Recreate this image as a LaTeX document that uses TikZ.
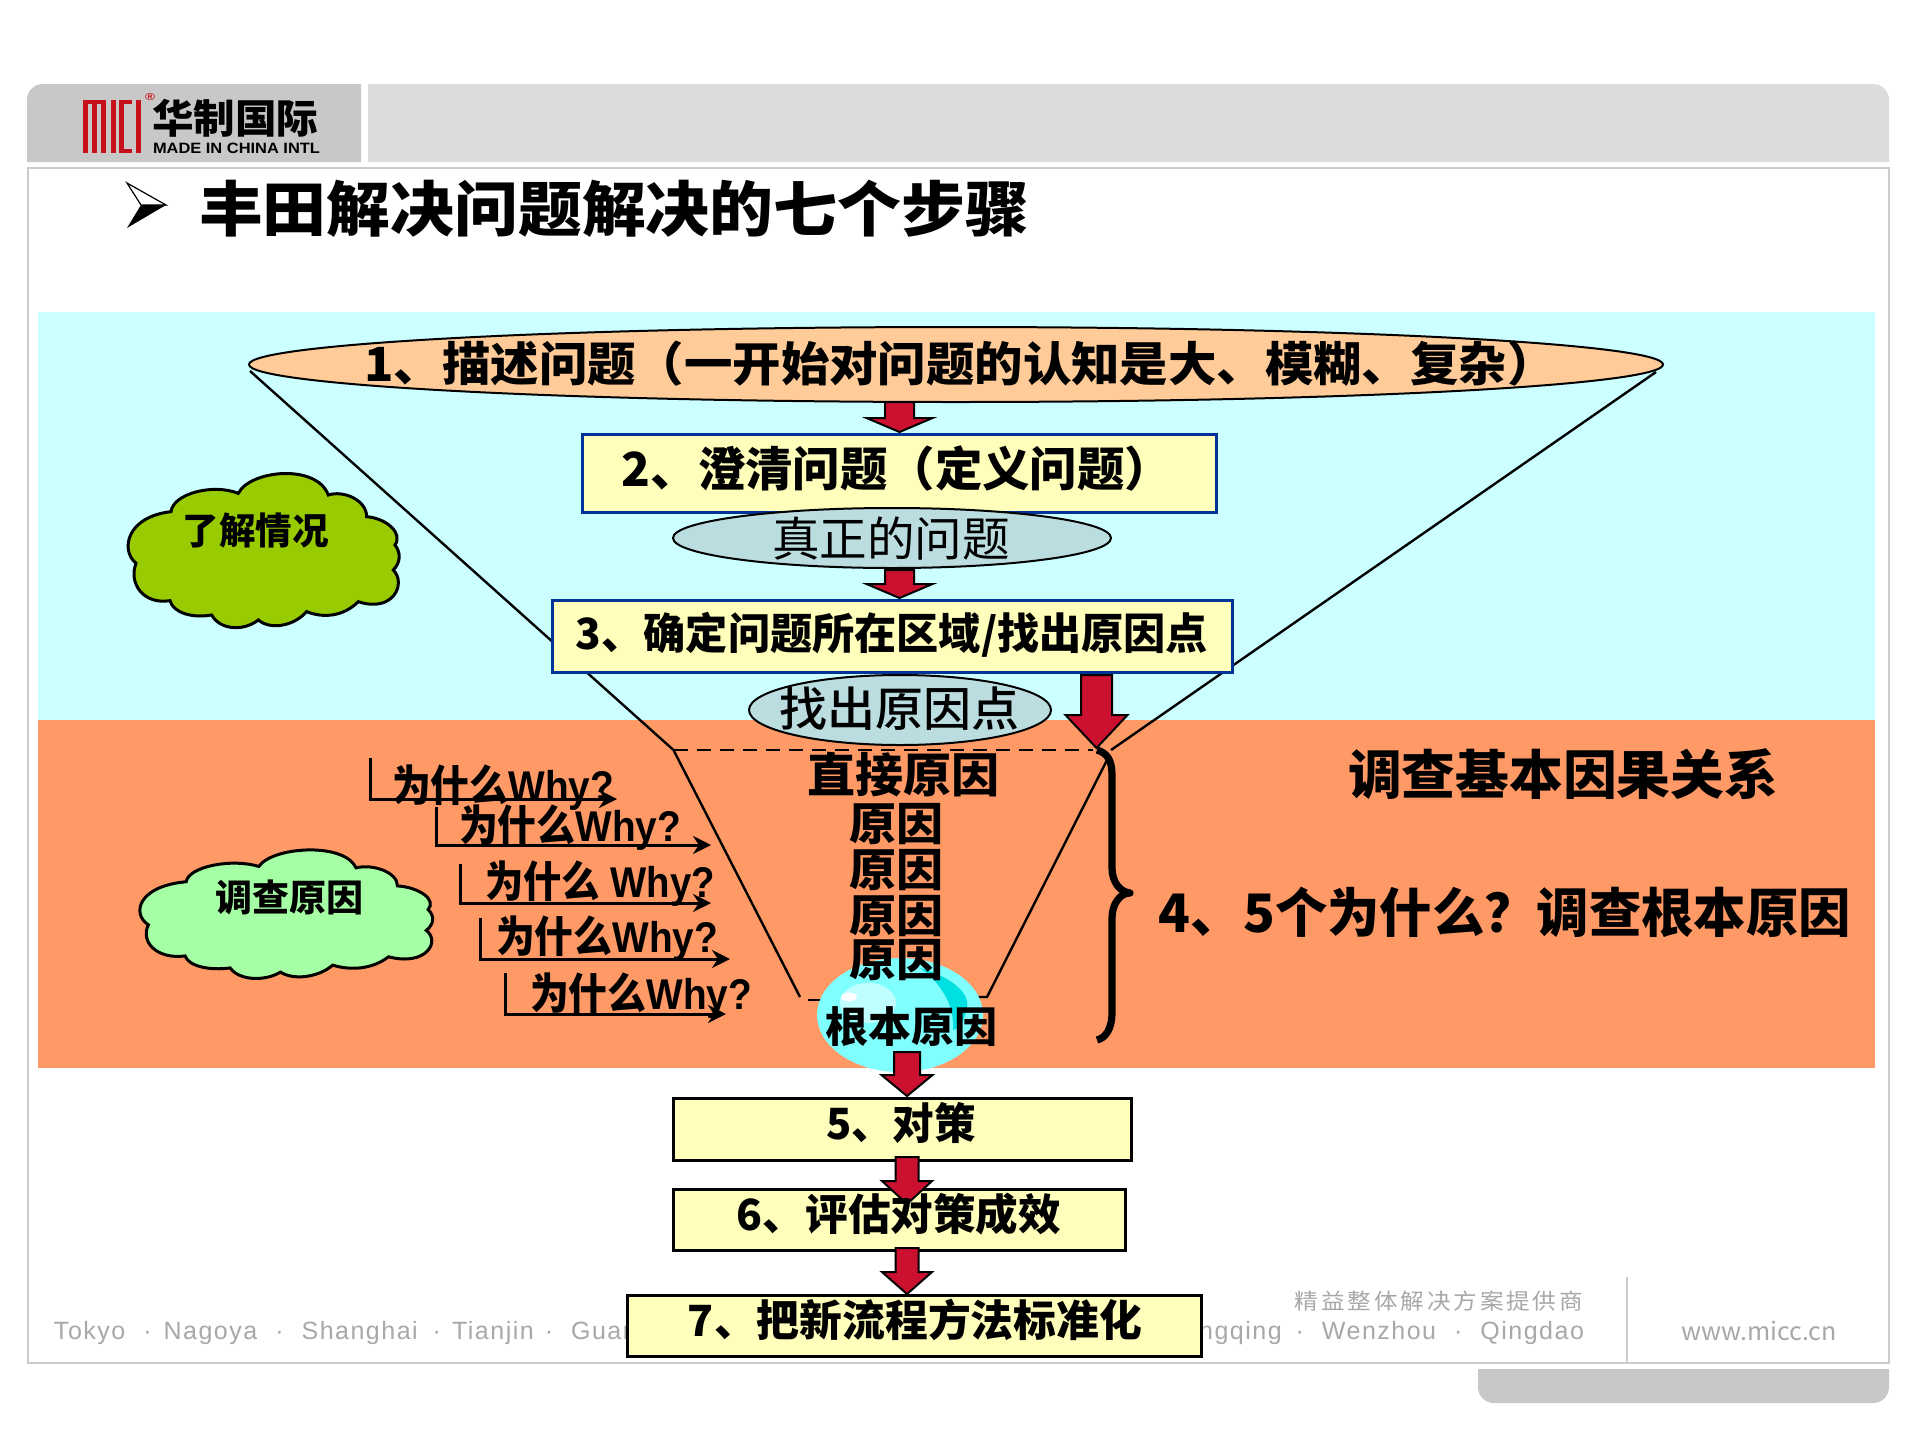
\documentclass[tikz,border=0pt]{standalone}
\usepackage{fontspec}
\usepackage{graphicx}
\usetikzlibrary{shapes.geometric,arrows.meta}
\setmainfont{Liberation Sans}
\newfontfamily\cjk{Noto Sans CJK SC}
\newfontfamily\cjkm{Noto Sans CJK SC}[UprightFont=* Medium]
\newfontfamily\footfont{Liberation Sans}[LetterSpace=6]
\newfontfamily\footcjk{Noto Sans CJK SC}[LetterSpace=12]
\newdimen\pxu \pxu=0.5pt
\newcommand\fw[3]{\resizebox{#1\pxu}{\height}{\fontsize{#2\pxu}{#2\pxu}\selectfont\bfseries #3}}
\newcommand\gp[1]{\hspace{#1\pxu}}
\definecolor{cyanbg}{HTML}{CCFFFF}
\definecolor{orangebg}{HTML}{FF9966}
\definecolor{peach}{HTML}{FFCC99}
\definecolor{boxy}{HTML}{FFFFBB}
\definecolor{boxblue}{HTML}{003399}
\definecolor{ellb}{HTML}{BBDDE0}
\definecolor{redarr}{HTML}{CC1030}
\definecolor{hdrl}{HTML}{DCDCDC}
\definecolor{hdrd}{HTML}{C8C8C8}
\definecolor{framec}{HTML}{CCCCCC}
\definecolor{footg}{HTML}{A8A8A8}
\definecolor{logored}{HTML}{C8101A}
\definecolor{cloudg}{HTML}{99CC00}
\definecolor{cloudl}{HTML}{A5FFA5}
\definecolor{bub}{HTML}{80FFFF}
\definecolor{bubd}{HTML}{00E0E0}
\definecolor{bubl}{HTML}{C0FFFF}
\newcommand\redarrow[6]{\draw[redstyle] (#1-#2,#4) -- (#1+#2,#4) -- (#1+#2,#5) -- (#1+#3,#5) -- (#1,#6) -- (#1-#3,#5) -- (#1-#2,#5) -- cycle;}
\newcommand\cloudshape[5]{\draw[cloudstyle,fill=#5,shift={(#1,#2)},xscale=#3,yscale=#4]
 (183,185) .. controls (190,130) and (310,100) .. (385,130)
 .. controls (420,60) and (620,40) .. (655,135)
 .. controls (700,120) and (770,150) .. (770,200)
 .. controls (830,205) and (880,250) .. (855,285)
 .. controls (875,310) and (870,340) .. (850,360)
 .. controls (890,400) and (850,490) .. (745,455)
 .. controls (700,500) and (640,505) .. (590,485)
 .. controls (550,530) and (480,540) .. (445,510)
 .. controls (400,545) and (330,540) .. (305,495)
 .. controls (250,505) and (190,490) .. (180,452)
 .. controls (100,465) and (55,400) .. (78,340)
 .. controls (30,300) and (50,200) .. (183,185) -- cycle;}
\tikzset{
 txt/.style={inner sep=0pt,outer sep=0pt,font=\cjk},
 redstyle/.style={draw=black,fill=redarr,line width=1pt,line join=miter},
 cloudstyle/.style={draw=black,line width=1.5pt},
 bluebox/.style={rectangle,draw=boxblue,fill=boxy,line width=1.5pt,inner sep=0pt,outer sep=0pt},
 blackbox/.style={rectangle,draw=black,fill=boxy,line width=1.5pt,inner sep=0pt,outer sep=0pt},
 ell/.style={ellipse,draw=black,inner sep=0pt,outer sep=0pt,line width=1pt},
 funnel/.style={draw=black,line width=1.2pt},
 whyarrow/.style={draw=black,line width=1.5pt,-{Stealth[length=9pt,width=9pt]}},
 logobar/.style={fill=logored,draw=none},
}
\begin{document}
\begin{tikzpicture}[x=0.5pt,y=-0.5pt]
\useasboundingbox (0,0) rectangle (1920,1440);
\fill[white] (0,0) rectangle (1920,1440);
% header and frame
\fill[hdrd] (27,162) -- (27,100) .. controls (27,91) and (34,84) .. (43,84) -- (361,84) -- (361,162) -- cycle;
\fill[hdrl] (368,162) -- (368,84) -- (1873,84) .. controls (1882,84) and (1889,91) .. (1889,100) -- (1889,162) -- cycle;
\draw[framec,line width=1pt] (28,168) -- (1889,168) -- (1889,1363) -- (28,1363) -- cycle;
\fill[hdrd] (1478,1369) -- (1478,1387) .. controls (1478,1396) and (1485,1403) .. (1494,1403) -- (1873,1403) .. controls (1882,1403) and (1889,1396) .. (1889,1387) -- (1889,1369) -- cycle;
% logo
\fill[logobar] (83,100) rectangle (87.5,153);
\fill[logobar] (92,100) rectangle (96.5,153);
\fill[logobar] (101,100) rectangle (105.5,153);
\fill[logobar] (83,100) rectangle (105.5,104);
\fill[logobar] (111,100) rectangle (115.5,153);
\fill[logobar] (119,100) rectangle (123.5,153);
\fill[logobar] (119,100) rectangle (132,104);
\fill[logobar] (119,149) rectangle (132,153);
\fill[logobar] (136,100) rectangle (141,153);
\node[txt,text=logored] (logor) at (150,97) {\fw{10}{10}{\rmfamily ®}};
\node[txt,text=black] (logocn) at (235,118) {\fw{166}{40}{华制国际}};
\node[txt,text=black] (logoen) at (236.5,148) {\fw{167}{15}{\rmfamily MADE IN CHINA INTL}};
% title
\draw[black,fill=white,line width=0.6pt] (127,183) -- (166,205) -- (141,205) -- cycle;
\fill[black] (127,228) -- (166,205) -- (141,205) -- cycle;
\node[txt] (title) at (614,209) {\fw{830}{60}{丰田解决问题解决的七个步骤}};
% backgrounds
\fill[cyanbg] (38,312) rectangle (1875,720);
\fill[orangebg] (38,720) rectangle (1875,1068);
% footer
\node[txt,anchor=west,text=footg] (footl) at (54,1333) {\footfont\fontsize{25\pxu}{25\pxu}\selectfont Tokyo\gp{18}·\gp{12}Nagoya\gp{18}·\gp{18}Shanghai\gp{15}·\gp{11}Tianjin\gp{11}·\gp{18}Guan};
\node[txt,anchor=east,text=footg] (footr) at (1584,1333) {\footfont\fontsize{25\pxu}{25\pxu}\selectfont ngqing\gp{14}·\gp{18}Wenzhou\gp{18}·\gp{18}Qingdao};
\node[txt,anchor=east,text=footg] (footc) at (1583,1301) {\resizebox{288\pxu}{\height}{\footcjk\fontsize{22\pxu}{22\pxu}\selectfont 精益整体解决方案提供商}};
\node[txt,text=footg] (footw) at (1759,1331) {\resizebox{156\pxu}{\height}{\fontsize{25\pxu}{25\pxu}\selectfont www.micc.cn}};
\coordinate (fv1) at (1627,1277); \coordinate (fv2) at (1627,1363);
\draw[framec,line width=0.8pt] (fv1) -- (fv2);
% funnel
\coordinate (fa) at (250,371);
\coordinate (fb) at (673.5,750);
\coordinate (fc) at (800,997);
\coordinate (fd) at (808,1000);
\coordinate (fe) at (825,1000);
\coordinate (ff) at (975,997);
\coordinate (fg) at (987,997);
\coordinate (fh) at (1107,760);
\coordinate (fi) at (1111,750);
\coordinate (fj) at (1656,372);
\coordinate (fk) at (1093,750);
\draw[funnel] (fa) -- (fb) -- (fc);
\draw[funnel] (fd) -- (fe);
\draw[funnel] (ff) -- (fg) -- (fh);
\draw[funnel] (fi) -- (fj);
\draw[funnel,dash pattern=on 7pt off 4.5pt,line width=1.3pt] (fb) -- (fk);
% clouds
\cloudshape{110}{450}{0.3333}{0.3333}{cloudg}
\node[txt] (cloud1) at (255.5,530) {\fw{146}{37}{了解情况}};
\cloudshape{120.3}{830.3}{0.36}{0.278}{cloudl}
\node[txt] (cloud2) at (289.5,897) {\fw{148}{37}{调查原因}};
% ellipse 1
\node[ell,fill=peach,minimum width=1414\pxu,minimum height=75\pxu] (e1) at (956,364.5) {};
\node[txt] (t1) at (960,364) {\fw{1191}{47}{1、描述问题（一开始对问题的认知是大、模糊、复杂）}};
% arrows top
\redarrow{899.5}{14.5}{33}{402}{418}{432}
% box 2
\node[bluebox,minimum width=634\pxu,minimum height=78\pxu] (b2) at (899.5,473) {};
\node[txt] (t2) at (897,469) {\fw{550}{47}{2、澄清问题（定义问题）}};
\node[ell,fill=ellb,minimum width=438\pxu,minimum height=60\pxu] (e2) at (892,538) {};
\node[txt] (t2e) at (891,539) {\fw{238}{47}{\mdseries 真正的问题}};
\redarrow{899.5}{14.5}{33}{570}{584}{598}
% box 3
\node[bluebox,minimum width=680\pxu,minimum height=72\pxu] (b3) at (892.5,636) {};
\node[txt] (t3) at (892,635) {\fw{632}{43}{3、确定问题所在区域/找出原因点}};
\node[ell,fill=ellb,minimum width=302\pxu,minimum height=70\pxu] (e3) at (900,710) {};
\node[txt] (t3e) at (899,709) {\fw{240}{47}{\cjkm\mdseries 找出原因点}};
\redarrow{1096.5}{15.5}{31}{675}{715}{748}
% bubble
\fill[bub] (900,1015) ellipse (83 and 57);
\fill[bubd] (920,968) .. controls (945,975) and (970,990) .. (967,1007) .. controls (965,1020) and (960,1028) .. (953,1030) .. controls (955,1005) and (940,982) .. (920,968) -- cycle;
\fill[bubl] (868,1003) ellipse (28 and 20);
\fill[white] (849,997) ellipse (8 and 4.5);
% causes
\node[txt] (c0) at (903,775) {\fw{192}{47}{直接原因}};
\node[txt] (c1) at (896,824) {\fw{94}{45}{原因}};
\node[txt] (c2) at (896,870) {\fw{94}{45}{原因}};
\node[txt] (c3) at (896,916) {\fw{94}{45}{原因}};
\node[txt] (c4) at (896,960) {\fw{94}{45}{原因}};
\node[txt] (root) at (911,1027) {\fw{172}{42}{根本原因}};
% brace
\coordinate (br1) at (1097,750); \coordinate (br2) at (1112,775); \coordinate (br3) at (1112,868);
\coordinate (brt) at (1130,893); \coordinate (br4) at (1112,918); \coordinate (br5) at (1112,1012); \coordinate (br6) at (1097,1040);
\draw[black,line width=3.6pt,line join=round] (br1) .. controls (1107,753) and (1112,760) .. (br2) -- (br3) .. controls (1112,882) and (1120,892) .. (brt) .. controls (1120,893) and (1112,904) .. (br4) -- (br5) .. controls (1112,1030) and (1105,1038) .. (br6);
% right texts
\node[txt] (r1) at (1563,774) {\fw{430}{53}{调查基本因果关系}};
\node[txt] (r2) at (1505,912) {\fw{692}{53}{4、5个为什么？调查根本原因}};
% why
\coordinate (w1a) at (370,758); \coordinate (w1b) at (370,799); \coordinate (w1c) at (617,799);
\coordinate (w2a) at (436,807); \coordinate (w2b) at (436,845); \coordinate (w2c) at (711,845);
\coordinate (w3a) at (460,864); \coordinate (w3b) at (460,903); \coordinate (w3c) at (711,903);
\coordinate (w4a) at (480,918); \coordinate (w4b) at (480,959); \coordinate (w4c) at (730,959);
\coordinate (w5a) at (505,973); \coordinate (w5b) at (505,1014); \coordinate (w5c) at (726,1014);
\draw[whyarrow] (w1a) -- (w1b) -- (w1c);
\draw[whyarrow] (w2a) -- (w2b) -- (w2c);
\draw[whyarrow] (w3a) -- (w3b) -- (w3c);
\draw[whyarrow] (w4a) -- (w4b) -- (w4c);
\draw[whyarrow] (w5a) -- (w5b) -- (w5c);
\node[txt] (y1) at (503,788) {\fw{222}{43}{为什么{\rmfamily Why?}}};
\node[txt] (y2) at (570,828) {\fw{222}{43}{为什么{\rmfamily Why?}}};
\node[txt] (y3) at (600,884) {\fw{230}{43}{为什么{\rmfamily\ Why?}}};
\node[txt] (y4) at (607,939) {\fw{222}{43}{为什么{\rmfamily Why?}}};
\node[txt] (y5) at (641,996) {\fw{222}{43}{为什么{\rmfamily Why?}}};
% lower boxes
\redarrow{907}{13}{25.5}{1052}{1075}{1096}
\node[blackbox,minimum width=458\pxu,minimum height=62\pxu] (b5) at (902.5,1129.5) {};
\node[txt] (t5) at (901,1123) {\fw{150}{43}{5、对策}};
\node[blackbox,minimum width=452\pxu,minimum height=61\pxu] (b6) at (899.5,1220) {};
\redarrow{907}{11.5}{25}{1157}{1181}{1204}
\node[txt] (t6) at (899,1214) {\fw{324}{43}{6、评估对策成效}};
\node[blackbox,minimum width=574\pxu,minimum height=61\pxu,line width=1.8pt] (b7) at (914.5,1326) {};
\redarrow{907}{11.5}{25}{1248}{1272}{1294}
\node[txt] (t7) at (915,1320) {\fw{454}{43}{7、把新流程方法标准化}};
\end{tikzpicture}
\end{document}
